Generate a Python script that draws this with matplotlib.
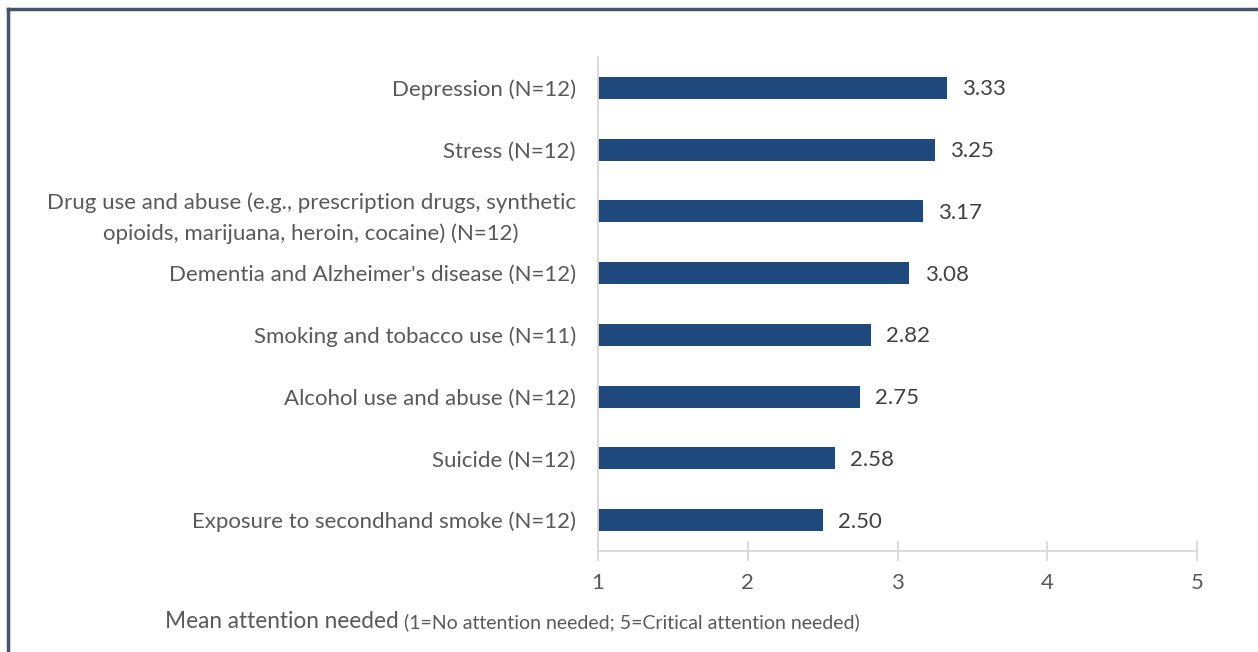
import matplotlib.pyplot as plt
from matplotlib.lines import Line2D

categories = [
    "Exposure to secondhand smoke (N=12)",
    "Suicide (N=12)",
    "Alcohol use and abuse (N=12)",
    "Smoking and tobacco use (N=11)",
    "Dementia and Alzheimer's disease (N=12)",
    "Drug use and abuse (e.g., prescription drugs, synthetic\nopioids, marijuana, heroin, cocaine) (N=12)",
    "Stress (N=12)",
    "Depression (N=12)",
]
values = [2.50, 2.58, 2.75, 2.82, 3.08, 3.17, 3.25, 3.33]
x_ticks = [1, 2, 3, 4, 5]

BAR_COLOR = "#1F497D"
TEXT_COLOR = "#595959"
AXIS_COLOR = "#D9D9D9"
FONT = "Lato"
FS = 16

fig = plt.figure(figsize=(12.58, 6.52), dpi=100)
ax = fig.add_axes([598 / 1258, 1 - 551 / 652, (1197 - 598) / 1258, (551 - 57) / 652])

ypos = list(range(len(categories)))
ax.barh(ypos, [v - 1 for v in values], left=1, height=0.36, color=BAR_COLOR)
for y, v in zip(ypos, values):
    ax.annotate(f"{v:.2f}", xy=(v, y), xytext=(11, -1), textcoords="offset points",
                va="center", ha="left", fontsize=FS, color="#404040", family=FONT)

ax.set_xlim(1, 5)
ax.set_ylim(-0.5, len(categories) - 0.5)
ax.set_xticks(x_ticks)
ax.set_xticklabels([str(t) for t in x_ticks], fontsize=FS, color=TEXT_COLOR, family=FONT)
ax.set_yticks(ypos)
ax.set_yticklabels(categories, fontsize=FS, color=TEXT_COLOR, family=FONT,
                   multialignment="center", linespacing=1.6)
ax.tick_params(axis="y", length=0, pad=16)
ax.tick_params(axis="x", length=14, width=1.3, color=AXIS_COLOR, direction="inout", pad=9)

for side in ["top", "right"]:
    ax.spines[side].set_visible(False)
ax.spines["left"].set_color(AXIS_COLOR)
ax.spines["left"].set_linewidth(1.3)
ax.spines["bottom"].set_color(AXIS_COLOR)
ax.spines["bottom"].set_linewidth(1.3)

# axis title with two font sizes
t1 = fig.text(165 / 1258, 1 - 632 / 652, "Mean attention needed", fontsize=16.3,
              color=TEXT_COLOR, family=FONT, va="bottom", ha="left")
ax.annotate(" (1=No attention needed; 5=Critical attention needed)", xy=(1, 0),
            xycoords=t1, xytext=(0, 0.5), textcoords="offset points",
            fontsize=14, color=TEXT_COLOR, family=FONT, va="bottom", ha="left",
            annotation_clip=False)

# outer frame (left and top edges visible)
fig.add_artist(Line2D([8 / 1258, 8 / 1258], [0, 1 - 9 / 652], transform=fig.transFigure,
                      color="#44546A", linewidth=2.5, solid_capstyle="projecting"))
fig.add_artist(Line2D([8 / 1258, 1], [1 - 9 / 652, 1 - 9 / 652], transform=fig.transFigure,
                      color="#44546A", linewidth=2.5, solid_capstyle="projecting"))

fig.savefig("out.png", dpi=100)
